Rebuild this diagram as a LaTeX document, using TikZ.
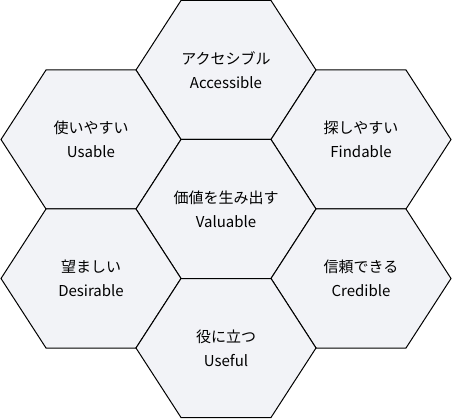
\documentclass[tikz,border=0pt]{standalone}
\usepackage{fontspec}
\setmainfont{Noto Sans CJK JP}
\usetikzlibrary{positioning}
\definecolor{cellfill}{RGB}{242,243,247}
\tikzset{
    hexline/.style={draw=black, line width=1pt, fill=cellfill, line join=miter},
    label/.style={align=center, text=black, font=\fontsize{15}{24}\selectfont},
    pics/hexcell/.style={code={
        \path[hexline] (-90,0) -- (-45,69.5) -- (45,69.5) -- (90,0) -- (45,-69.5) -- (-45,-69.5) -- cycle;
    }}
}
\begin{document}
\begin{tikzpicture}[x=1pt, y=1pt]
        \useasboundingbox (0,0) rectangle (452,418);

        % honeycomb
        \pic at (226,348) {hexcell};
        \pic at (91,278.5) {hexcell};
        \pic at (361,278.5) {hexcell};
        \pic at (226,209) {hexcell};
        \pic at (91,139.5) {hexcell};
        \pic at (361,139.5) {hexcell};
        \pic at (226,70) {hexcell};

        % texts
        \node [label] (acc) at (226,348) {アクセシブル\\Accessible};
        \node [label] (usa) at (91,278.5) {使いやすい\\Usable};
        \node [label] (fin) at (361,278.5) {探しやすい\\Findable};
        \node [label] (val) at (226,209) {価値を生み出す\\Valuable};
        \node [label] (des) at (91,139.5) {望ましい\\Desirable};
        \node [label] (cre) at (361,139.5) {信頼できる\\Credible};
        \node [label] (use) at (226,70) {役に立つ\\Useful};
\end{tikzpicture}
\end{document}
